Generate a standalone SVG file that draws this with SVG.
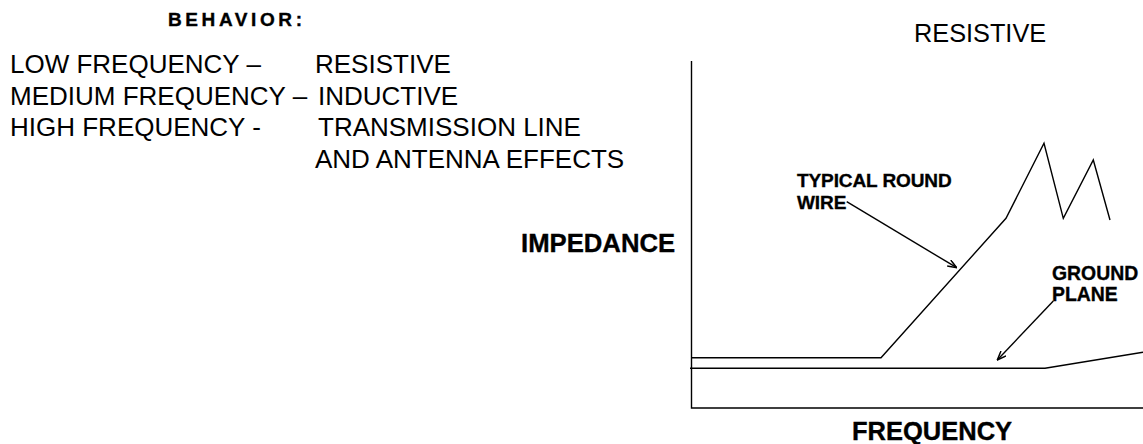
<svg xmlns="http://www.w3.org/2000/svg" width="1143" height="444" viewBox="0 0 1143 444">
<style>
.t{font-family:"Liberation Sans",Arial,sans-serif;fill:#000}
.n{font-size:26px}
.b{font-weight:bold;stroke:#000;stroke-width:0.35}
.ln{fill:none;stroke:#000;stroke-width:1.4}
</style>
<defs>
<marker id="ah" viewBox="0 0 10 8" refX="9.5" refY="4" markerWidth="10" markerHeight="8" markerUnits="userSpaceOnUse" orient="auto">
<path d="M0.5,0.5 L9.5,4 L0.5,7.5" fill="none" stroke="#000" stroke-width="1.5"/>
</marker>
</defs>
<rect width="1143" height="444" fill="#fff"/>
<g id="behavior">
<text class="t b" x="168" y="26" font-size="19" letter-spacing="3.6" stroke-width="0.9">BEHAVIOR:</text>
<text class="t n" x="10" y="73">LOW FREQUENCY –</text>
<text class="t n" x="10" y="104.5">MEDIUM FREQUENCY –</text>
<text class="t n" x="10" y="136">HIGH FREQUENCY -</text>
<text class="t n" x="315" y="73">RESISTIVE</text>
<text class="t n" x="318" y="104.5">INDUCTIVE</text>
<text class="t n" x="318" y="136">TRANSMISSION LINE</text>
<text class="t n" x="315" y="167.5">AND ANTENNA EFFECTS</text>
</g>
<g id="chart-title">
<text class="t" x="914" y="42" font-size="25.3">RESISTIVE</text>
</g>
<g id="axes">
<path class="ln" d="M691.5,61 V408 H1143" stroke-width="1.6"/>
<text class="t b" x="521" y="251.7" font-size="25.7">IMPEDANCE</text>
<text class="t b" x="852" y="440" font-size="25.5">FREQUENCY</text>
</g>
<g id="round-wire">
<polyline class="ln" points="691,357.7 881,357.7 1006,218.3 1044,143.3 1063.3,218.3 1093.3,160 1110,220"/>
<text class="t b" x="797" y="186.5" font-size="19" letter-spacing="-0.1">TYPICAL ROUND</text>
<text class="t b" x="797" y="209.3" font-size="19" letter-spacing="-0.1">WIRE</text>
</g>
<g id="ground-plane">
<polyline class="ln" points="690,368.3 1045,368.3 1143,352.3"/>
<text class="t b" x="1052" y="280" font-size="19.4">GROUND</text>
<text class="t b" x="1052" y="301" font-size="19.4">PLANE</text>
</g>
<g id="connectors">
<line class="ln" x1="846.7" y1="201.7" x2="956.7" y2="267.7" marker-end="url(#ah)"/>
<line class="ln" x1="1053.3" y1="301" x2="997.3" y2="360" marker-end="url(#ah)"/>
</g>
</svg>
